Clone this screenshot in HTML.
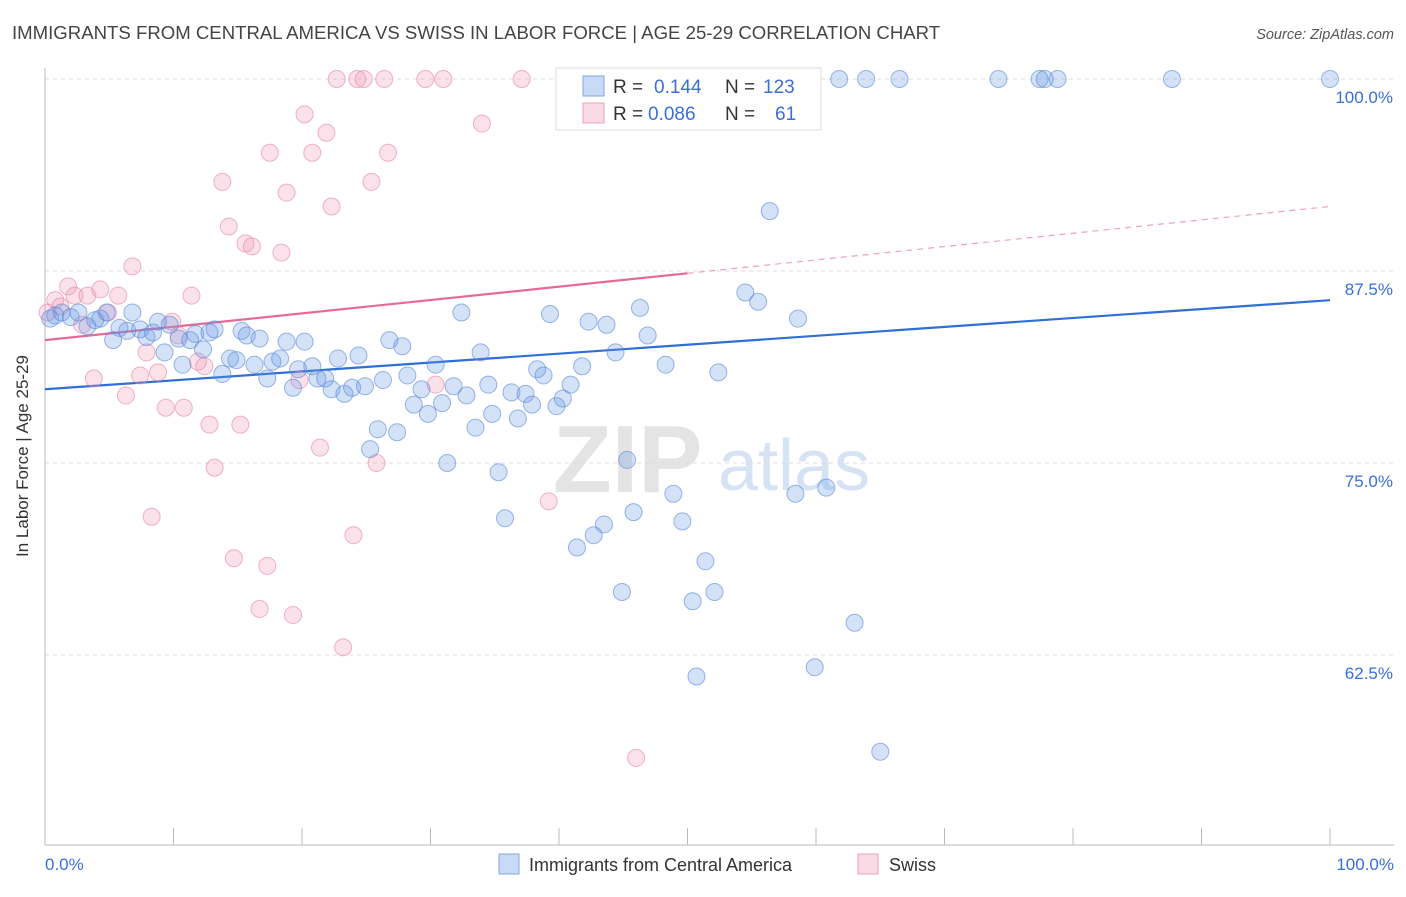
<!DOCTYPE html>
<html><head><meta charset="utf-8"><style>
body{margin:0;background:#fff;font-family:"Liberation Sans",sans-serif;}
svg text{font-family:"Liberation Sans",sans-serif;}
</style></head><body>
<svg id="chart" width="1406" height="892" xmlns="http://www.w3.org/2000/svg">
<text x="12" y="39" font-size="18.6" fill="#444">IMMIGRANTS FROM CENTRAL AMERICA VS SWISS IN LABOR FORCE | AGE 25-29 CORRELATION CHART</text>
<text x="1394" y="39" font-size="14.5" fill="#555" text-anchor="end" font-style="italic">Source: ZipAtlas.com</text>
<g>
<text x="553" y="492" font-size="96" fill="#e4e4e4" font-family="Liberation Serif" font-weight="bold">ZIP</text>
<text x="718" y="490" font-size="72" fill="#d6e3f5">atlas</text>
</g>
<g id="grid"></g>
<g id="axes"></g>
<g id="lines"></g>
<g id="pts"></g>
<text x="28" y="456" font-size="17" fill="#333" text-anchor="middle" transform="rotate(-90 28 456)">In Labor Force | Age 25-29</text>
<text x="45" y="870" font-size="17" fill="#3a6fd8">0.0%</text>
<text x="1394" y="870" font-size="17" fill="#3a6fd8" text-anchor="end">100.0%</text>
<g>
<rect x="556" y="68" width="265" height="62" fill="#fff" stroke="#ddd"/>
<rect x="583" y="76" width="21" height="20" fill="rgba(100,150,230,0.35)" stroke="#7fa6e0"/>
<rect x="583" y="103" width="21" height="20" fill="rgba(240,150,180,0.35)" stroke="#eea0bb"/>
<text x="613" y="93" font-size="19" fill="#333">R = </text><text x="654" y="93" font-size="19" fill="#3a6fd8">0.144</text>
<text x="725" y="93" font-size="19" fill="#333">N = </text><text x="763" y="93" font-size="19" fill="#3a6fd8">123</text>
<text x="613" y="120" font-size="19" fill="#333">R = </text><text x="648" y="120" font-size="19" fill="#3a6fd8">0.086</text>
<text x="725" y="120" font-size="19" fill="#333">N = </text><text x="775" y="120" font-size="19" fill="#3a6fd8">61</text>
</g>
<g>
<rect x="499" y="854" width="20" height="20" fill="rgba(100,150,230,0.35)" stroke="#7fa6e0"/>
<text x="529" y="871" font-size="18" fill="#333">Immigrants from Central America</text>
<rect x="858" y="854" width="20" height="20" fill="rgba(240,150,180,0.35)" stroke="#eea0bb"/>
<text x="889" y="871" font-size="18" fill="#333">Swiss</text>
</g>
</svg>
<script>
const blueX=[0.4,0.8,1.3,2.0,2.6,3.3,3.9,4.3,4.8,5.3,5.8,6.4,6.8,7.4,7.9,8.4,8.8,9.3,9.7,10.4,10.7,11.3,11.7,12.3,12.8,13.2,13.8,14.4,14.9,15.3,15.7,16.3,16.7,17.3,17.7,18.3,18.8,19.3,19.7,20.2,20.8,21.2,21.8,22.3,22.8,23.3,23.9,24.4,24.9,25.3,25.9,26.3,26.8,27.4,27.8,28.2,28.7,29.3,29.8,30.4,30.9,31.3,31.8,32.4,32.8,33.5,33.9,34.5,34.8,35.3,35.8,36.3,36.8,37.4,37.9,38.3,38.8,39.3,39.8,40.3,40.9,41.4,41.8,42.3,42.7,43.5,43.7,44.4,44.9,45.3,45.8,46.3,46.9,48.3,48.9,49.6,50.4,50.7,51.4,52.1,52.4,54.5,55.5,56.4,58.4,58.6,59.9,60.8,63.0,65.0,53.5,61.8,63.9,66.5,74.2,77.4,77.8,78.8,87.7,100.0];
const blueY=[84.4,84.6,84.8,84.5,84.8,83.9,84.3,84.4,84.8,83.0,83.8,83.6,84.8,83.7,83.2,83.5,84.2,82.2,84.0,83.1,81.4,83.0,83.4,82.4,83.5,83.7,80.8,81.8,81.7,83.6,83.3,81.4,83.1,80.5,81.6,81.8,82.9,79.9,81.1,82.9,81.3,80.5,80.5,79.8,81.8,79.5,79.9,82.0,80.0,75.9,77.2,80.4,83.0,77.0,82.6,80.7,78.8,79.8,78.2,81.4,78.9,75.0,80.0,84.8,79.4,77.3,82.2,80.1,78.2,74.4,71.4,79.6,77.9,79.5,78.8,81.1,80.7,84.7,78.7,79.2,80.1,69.5,81.3,84.2,70.3,71.0,84.0,82.2,66.6,75.2,71.8,85.1,83.3,81.4,73.0,71.2,66.0,61.1,68.6,66.6,80.9,86.1,85.5,91.4,73.0,84.4,61.7,73.4,64.6,56.2,100,100,100,100,100,100,100,100,100,100];
const pinkX=[0.2,0.8,1.2,1.8,2.3,2.9,3.3,3.8,4.3,4.9,5.7,6.3,6.8,7.4,7.9,8.3,8.8,9.4,9.9,10.4,10.8,11.4,11.9,12.4,12.8,13.2,13.8,14.3,14.7,15.2,15.6,16.1,16.7,17.3,17.5,18.4,18.8,19.3,19.8,20.2,20.8,21.4,21.9,22.3,22.7,23.2,24.0,24.3,24.8,25.4,25.8,26.4,26.7,29.6,30.4,31.0,34.0,37.1,39.2,46.0];
const pinkY=[84.8,85.6,85.2,86.5,85.9,84.0,85.9,80.5,86.3,84.8,85.9,79.4,87.8,80.7,82.2,71.5,80.9,78.6,84.2,83.3,78.6,85.9,81.6,81.3,77.5,74.7,93.3,90.4,68.8,77.5,89.3,89.1,65.5,68.3,95.2,88.7,92.6,65.1,80.4,97.7,95.2,76.0,96.5,91.7,100,63.0,70.3,100,100,93.3,75.0,100,95.2,100,80.1,100,97.1,100,72.5,55.8];
const blueTrend=[79.8,85.6];
const pinkTrend=[83.0,91.7];
const pinkSolidEnd=50;
const yTicks=[100,87.5,75,62.5];
const yTickLabels=["100.0%","87.5%","75.0%","62.5%"];
const xTicks=[0,10,20,30,40,50,60,70,80,90,100];
const NS="http://www.w3.org/2000/svg";
const sx=v=>45+v*12.85;
const sy=v=>79+(100-v)*15.36;
function mk(tag,attrs,parent){const e=document.createElementNS(NS,tag);for(const k in attrs)e.setAttribute(k,attrs[k]);document.getElementById(parent).appendChild(e);return e;}
yTicks.forEach((t,i)=>{
 const l=mk('line',{x1:45,x2:1394,y1:sy(t),y2:sy(t),stroke:'#ddd','stroke-dasharray':'4,4'},'grid');
 
 
 const tx=mk('text',{x:1393,y:sy(t)+24,'font-size':17,fill:'#3a6fd8','text-anchor':'end'},'grid');
 tx.textContent=yTickLabels[i];
 
 
});
const ax=mk('line',{x1:45,x2:45,y1:68,y2:845,stroke:'#bbb'},'axes');


const bx=mk('line',{x1:45,x2:1394,y1:845,y2:845,stroke:'#bbb'},'axes');


xTicks.forEach(t=>{
 const k=mk('line',{x1:sx(t),x2:sx(t),y1:828,y2:845,stroke:'#bbb'},'axes');
 
 
});
function draw(xs,ys,fill,stroke,name){
 xs.forEach((x,i)=>{
  const c=mk('circle',{cx:sx(x),cy:sy(ys[i]),r:8.5,fill:fill,stroke:stroke,'stroke-width':1},'pts');
  
  
 });
}
draw(pinkX,pinkY,'rgba(240,150,180,0.28)','rgba(230,130,165,0.6)','swiss-point');
draw(blueX,blueY,'rgba(100,150,230,0.28)','rgba(90,135,215,0.6)','central-america-point');
const bl=mk('line',{x1:sx(0),y1:sy(blueTrend[0]),x2:sx(100),y2:sy(blueTrend[1]),stroke:'#2f6fd6','stroke-width':2.2},'lines');


const pm=pinkTrend[0]+(pinkTrend[1]-pinkTrend[0])*pinkSolidEnd/100;
const pl=mk('line',{x1:sx(0),y1:sy(pinkTrend[0]),x2:sx(pinkSolidEnd),y2:sy(pm),stroke:'#e66a95','stroke-width':2.2},'lines');


const pd=mk('line',{x1:sx(pinkSolidEnd),y1:sy(pm),x2:sx(100),y2:sy(pinkTrend[1]),stroke:'#eea0bb','stroke-width':1.2,'stroke-dasharray':'6,5'},'lines');


</script>
</body></html>
